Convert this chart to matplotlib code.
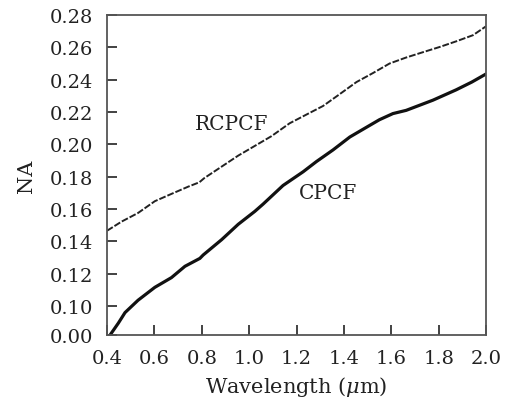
import numpy as np
import matplotlib
matplotlib.use("Agg")
import matplotlib.pyplot as plt

# ---- data ----
cpcf_x = [0.413, 0.448, 0.476, 0.531, 0.602, 0.672, 0.729, 0.792, 0.806, 0.884,
          0.954, 1.024, 1.059, 1.143, 1.228, 1.284, 1.354, 1.425, 1.495, 1.550,
          1.607, 1.663, 1.776, 1.874, 1.940, 2.0]
cpcf_y = [0.000, 0.041, 0.077, 0.1035, 0.1115, 0.1175, 0.1245, 0.1294, 0.1315, 0.141,
          0.1505, 0.1585, 0.1630, 0.1745, 0.1830, 0.1893, 0.1965, 0.2045, 0.2105, 0.2152,
          0.2190, 0.2210, 0.2273, 0.2337, 0.2385, 0.2435]

rcpcf_x = [0.40, 0.462, 0.531, 0.602, 0.672, 0.743, 0.790, 0.810, 0.884, 0.954,
           1.024, 1.094, 1.171, 1.242, 1.312, 1.382, 1.453, 1.523, 1.593, 1.663,
           1.734, 1.804, 1.874, 1.945, 2.0]
rcpcf_y = [0.1465, 0.1522, 0.1575, 0.1648, 0.1693, 0.1738, 0.1765, 0.1790, 0.1862, 0.1930,
           0.1990, 0.2050, 0.2130, 0.2184, 0.2237, 0.2310, 0.2385, 0.2441, 0.2500, 0.2537,
           0.2570, 0.2602, 0.2637, 0.2675, 0.2730]

x_ticks = [0.4, 0.6, 0.8, 1.0, 1.2, 1.4, 1.6, 1.8, 2.0]
x_tick_labels = ["0.4", "0.6", "0.8", "1.0", "1.2", "1.4", "1.6", "1.8", "2.0"]
y_ticks = [0.00, 0.10, 0.12, 0.14, 0.16, 0.18, 0.20, 0.22, 0.24, 0.26, 0.28]
y_tick_labels = ["0.00", "0.10", "0.12", "0.14", "0.16", "0.18", "0.20",
                 "0.22", "0.24", "0.26", "0.28"]

# broken y-axis: 0.00 .. 0.10 compressed into about one tick step
def fwd(v):
    v = np.asarray(v, dtype=float)
    return np.where(v < 0.10, 0.082 + 0.18 * v, v)

def inv(u):
    u = np.asarray(u, dtype=float)
    return np.where(u < 0.10, (u - 0.082) / 0.18, u)

plt.rcParams["font.family"] = ["DejaVu Serif"]
plt.rcParams["mathtext.fontset"] = "dejavuserif"

fig = plt.figure(figsize=(5.13, 4.02), dpi=100)
ax = fig.add_axes([0.2086, 0.1642, 0.7388, 0.7960])
ax.set_yscale("function", functions=(fwd, inv))

ax.plot(cpcf_x, cpcf_y, color="#111111", lw=2.3, solid_capstyle="round",
        solid_joinstyle="round")
ax.plot(rcpcf_x, rcpcf_y, color="#222222", lw=1.4, linestyle=(0, (3.5, 1.0)))

ax.text(0.927, 0.2129, "RCPCF", fontsize=14.5, ha="center", va="center", color="#222222")
ax.text(1.332, 0.1702, "CPCF", fontsize=14.5, ha="center", va="center", color="#222222")

ax.set_xlim(0.4, 2.0)
ax.set_ylim(0.0, 0.28)
ax.set_xticks(x_ticks)
ax.set_xticklabels(x_tick_labels)
ax.set_yticks(y_ticks)
ax.set_yticklabels(y_tick_labels)
ax.yaxis.set_minor_locator(matplotlib.ticker.NullLocator())
ax.xaxis.set_minor_locator(matplotlib.ticker.NullLocator())

ax.tick_params(direction="in", length=7, width=1.2, labelsize=14,
               colors="#222222", top=False, right=False)
ax.tick_params(axis="x", pad=10)
ax.tick_params(axis="y", pad=10)
for s in ax.spines.values():
    s.set_color("#555555")
    s.set_linewidth(1.3)

ax.set_xlabel("Wavelength ($\\mu$m)", fontsize=15, color="#222222", labelpad=5)
ax.set_ylabel("NA", fontsize=15, color="#222222", labelpad=10)

fig.savefig("out.png", dpi=100)
